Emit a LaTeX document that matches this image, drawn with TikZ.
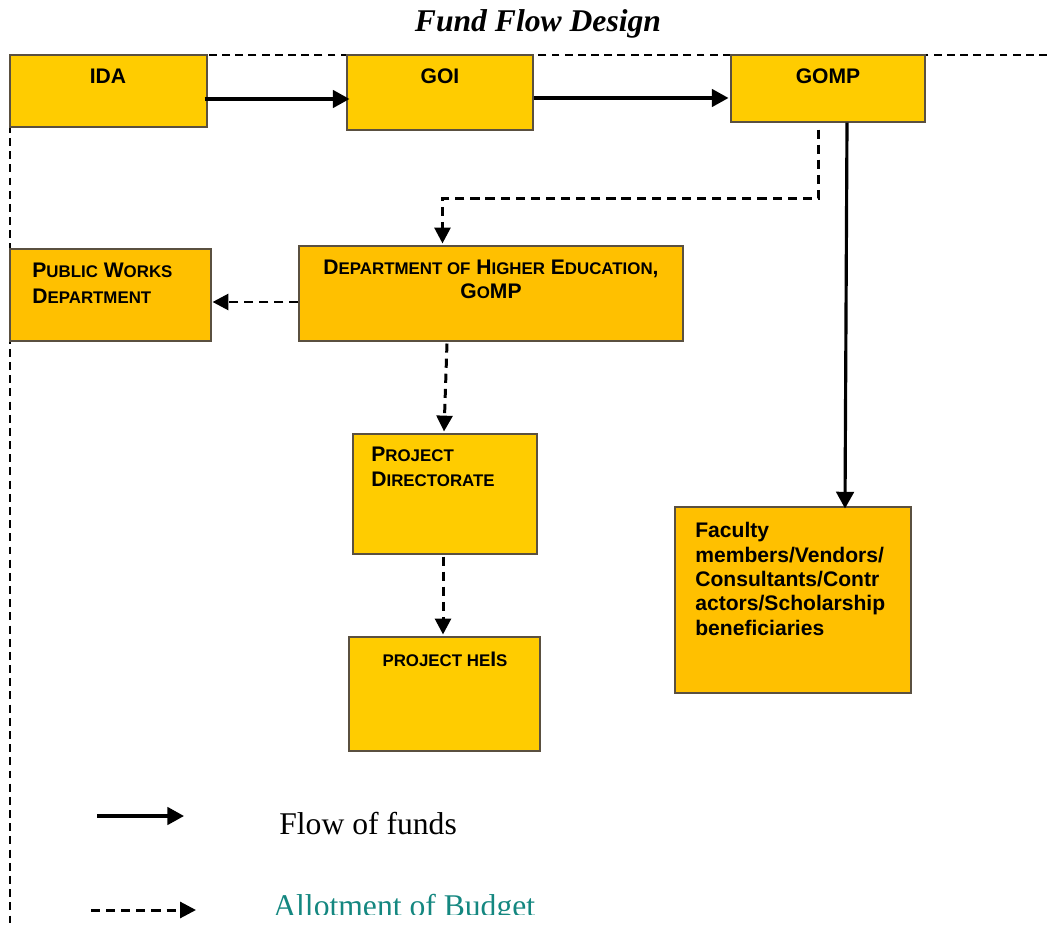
\documentclass[tikz,border=0pt]{standalone}
\usepackage{fontspec}
\setmainfont{Liberation Serif}
\setsansfont{Liberation Sans}
\usetikzlibrary{arrows.meta,fit,calc}
\definecolor{boxyel}{HTML}{FFCC00}
\definecolor{boxorg}{HTML}{FFC000}
\definecolor{boxline}{HTML}{5A5040}
\definecolor{tealtxt}{RGB}{20,135,128}
\newcommand\bgf{\fontsize{12}{14}\selectfont}
\newcommand\smc[1]{{\fontsize{9.6}{14}\selectfont #1}}
\tikzset{
  box/.style={draw=boxline, line width=0.6pt, inner sep=0pt},
  yel/.style={box, fill=boxyel},
  org/.style={box, fill=boxorg},
  lab/.style={inner sep=0pt, font=\sffamily\bfseries\bgf},
  solidar/.style={line width=1.8pt, -{Triangle[length=9.5pt,width=10pt]}},
  dashar/.style={line width=1.7pt, dash pattern=on 5.2pt off 3.4pt, -{Triangle[length=9pt,width=9pt]}},
  frame/.style={line width=1.2pt, dash pattern=on 4.5pt off 3pt}
}
\begin{document}
\begin{tikzpicture}[x=0.02cm,y=-0.02cm]
\useasboundingbox (0,0) rectangle (1047,928);
% frame
\coordinate (fc) at (10,55);
\coordinate (fr) at (1047,55);
\coordinate (fb) at (10,928);
\draw[frame] (fr) -- (fc) -- (fb);
% title
\node[inner sep=0pt, anchor=base, font=\fontsize{18}{22}\selectfont\bfseries\itshape] (title) at (538,32) {Fund Flow Design};
% boxes
\node[yel, fit={(10,55) (207,127)}] (ida) {};
\node[yel, fit={(347,55) (533,130)}] (goi) {};
\node[yel, fit={(731,55) (925,122)}] (gomp) {};
\node[org, fit={(10,249) (211,341)}] (pwd) {};
\node[org, fit={(299,246) (683,341)}] (dhe) {};
\node[yel, fit={(353,434) (537,554)}] (pd) {};
\node[yel, fit={(349,637) (540,751)}] (heis) {};
\node[org, fit={(675,507) (911,693)}] (fac) {};
% labels
\node[lab, anchor=base] (idat) at (108,84) {IDA};
\node[lab, anchor=base] (goit) at (440,84) {GOI};
\node[lab, anchor=base] (gompt) at (828,84) {GOMP};
\node[lab, anchor=north west, align=left, font=\sffamily\bfseries\fontsize{12}{14.6}\selectfont] (pwdt) at (32,263)
  {P\smc{UBLIC} W\smc{ORKS}\\D\smc{EPARTMENT}};
\node[lab, anchor=north, align=center, font=\sffamily\bfseries\fontsize{12}{13.6}\selectfont] (dhet) at (491,260)
  {D\smc{EPARTMENT OF} H\smc{IGHER} E\smc{DUCATION},\\G\smc{O}MP};
\node[lab, anchor=north west, align=left, font=\sffamily\bfseries\fontsize{12}{14.2}\selectfont] (pdt) at (371,447)
  {P\smc{ROJECT}\\D\smc{IRECTORATE}};
\node[lab, anchor=base] (heist) at (445,666) {\smc{PROJECT HE}I\smc{S}};
\node[lab, anchor=north west, align=left, font=\sffamily\bfseries\fontsize{12}{13.9}\selectfont] (fact) at (695,522)
  {Faculty\\members/Vendors/\\Consultants/Contr\\actors/Scholarship\\beneficiaries};
% connectors
\draw[solidar] ($(ida.east)+(-3,8)$) -- ($(goi.west)+(3,6.5)$);
\draw[solidar] ($(goi.east)+(0,5.5)$) -- ($(gomp.west)+(-2,9.5)$);
\draw[solidar] ($(gomp.south)+(19,0)$) -- ($(fac.north)+(52,2)$);
\draw[dashar] ($(gomp.south west)+(88,7)$) -- ++(0,69) -| ($(dhe.north west)+(144,-2)$);
\draw[dashar] ($(dhe.west)+(0,8.5)$) -- ($(pwd.east)+(1,7)$);
\draw[dashar] ($(dhe.south)+(-44,2)$) -- ($(pd.north)+(-1,-2)$);
\draw[dashar] ($(pd.south)+(-2,2)$) -- ($(heis.north)+(-1.5,-2)$);
% legend
\coordinate (l1a) at (97,816);
\coordinate (l1b) at (184,816);
\coordinate (l2a) at (91,910);
\coordinate (l2b) at (196,910);
\draw[solidar] (l1a) -- (l1b);
\draw[dashar] (l2a) -- (l2b);
\node[inner sep=0pt, anchor=base west, font=\fontsize{18}{22}\selectfont] (flow) at (279,834) {Flow of funds};
\begin{scope}
\clip (250,870) rectangle (600,914);
\node[inner sep=0pt, anchor=base west, font=\fontsize{18}{22}\selectfont, text=tealtxt] (allot) at (273,916) {Allotment of Budget};
\end{scope}
\end{tikzpicture}
\end{document}
